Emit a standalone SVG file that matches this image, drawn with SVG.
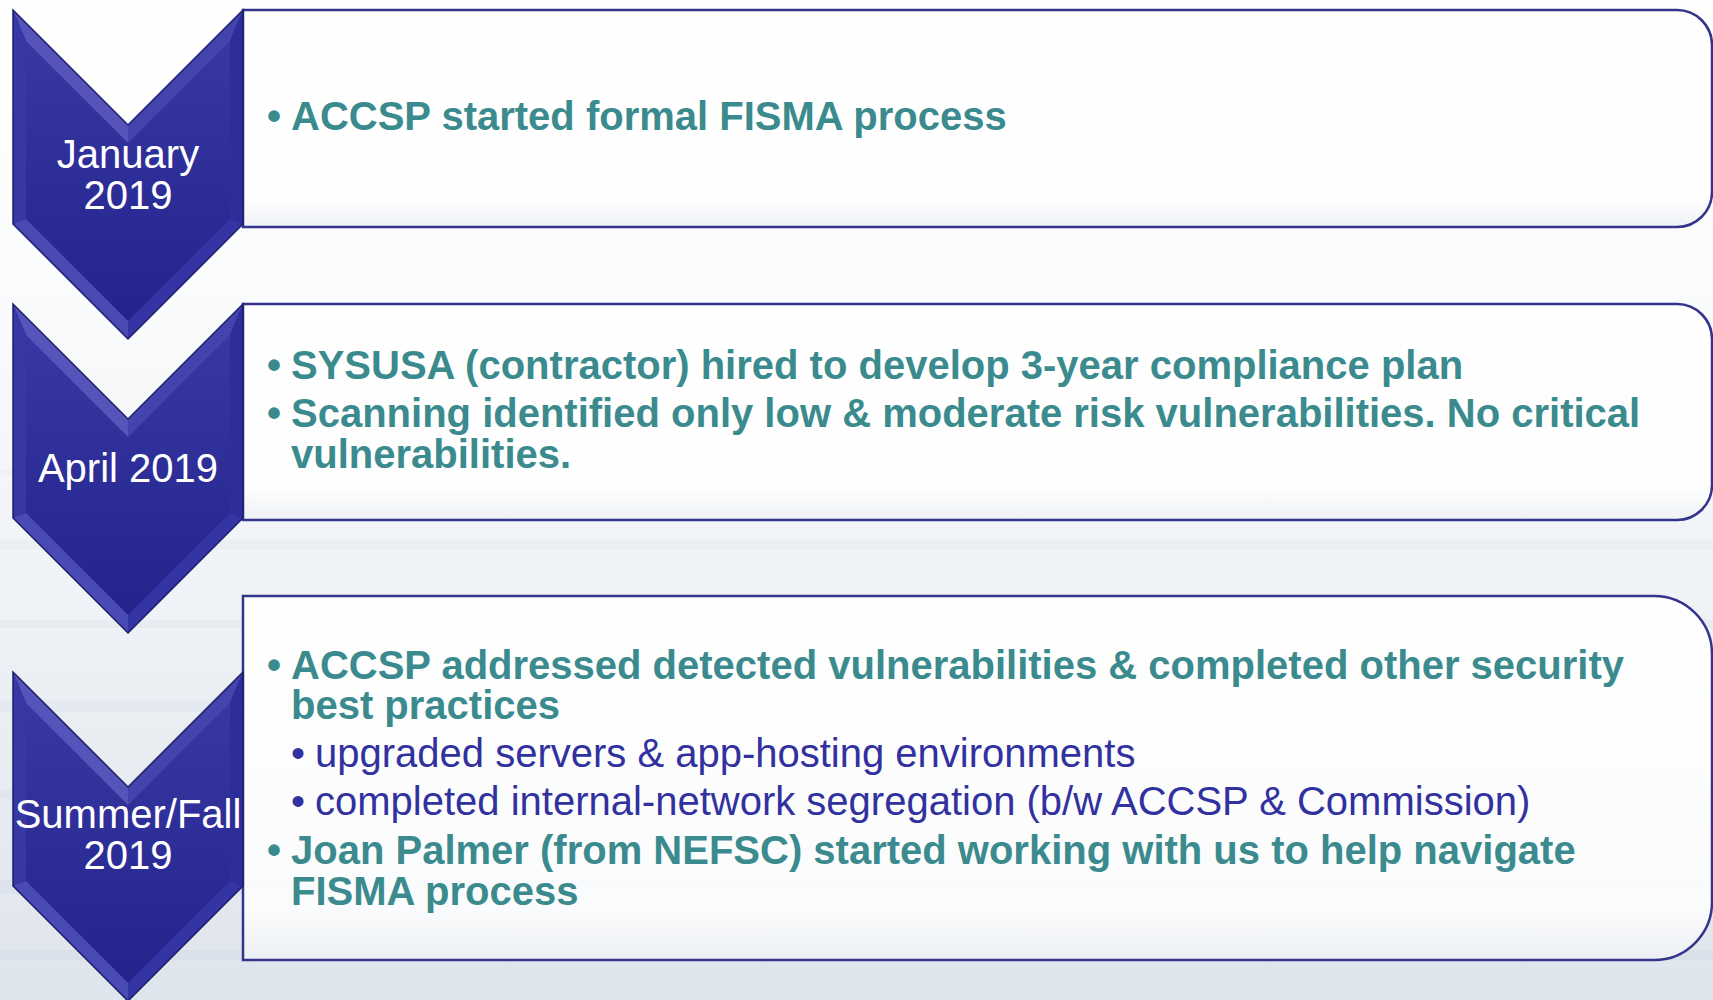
<svg xmlns="http://www.w3.org/2000/svg" width="1713" height="1000" viewBox="0 0 1713 1000">
  <defs>
    <linearGradient id="bg" x1="0" y1="0" x2="0" y2="1">
      <stop offset="0" stop-color="#ffffff"/>
      <stop offset="0.3" stop-color="#fafbfc"/>
      <stop offset="0.6" stop-color="#eff2f6"/>
      <stop offset="1" stop-color="#dfe5ec"/>
    </linearGradient>
    <linearGradient id="chevFill" x1="0" y1="0" x2="0" y2="1">
      <stop offset="0" stop-color="#3838a4"/>
      <stop offset="1" stop-color="#23238c"/>
    </linearGradient>
    <linearGradient id="boxFill" x1="0" y1="0" x2="0" y2="1">
      <stop offset="0" stop-color="#ffffff" stop-opacity="0.95"/>
      <stop offset="0.85" stop-color="#ffffff" stop-opacity="0.85"/>
      <stop offset="1" stop-color="#eef1f5" stop-opacity="0.9"/>
    </linearGradient>
    <g id="chev">
      <polygon points="0,0 115,115 230,0 230,214 115,329 0,214" fill="#2a2a94"/>
      <polygon points="13,31 115,133 217,31 217,209 115,311 13,209" fill="url(#chevFill)"/>
      <polygon points="0,0 115,115 115,133 13,31" fill="#5454ba"/>
      <polygon points="115,115 230,0 217,31 115,133" fill="#4444ae"/>
      <polygon points="0,0 13,31 13,209 0,214" fill="#3838a4"/>
      <polygon points="230,0 230,214 217,209 217,31" fill="#2e2e9a"/>
      <polygon points="0,214 13,209 115,311 115,329" fill="#4a4ab4"/>
      <polygon points="115,329 115,311 217,209 230,214" fill="#3434a4"/>
      <polygon points="0,0 115,115 230,0 230,214 115,329 0,214" fill="none" stroke="#1e1e6e" stroke-width="1.5"/>
    </g>
    <style>
      .box { fill: url(#boxFill); stroke: #34348c; stroke-width: 2.5; }
      .date { font-family: "Liberation Sans", Arial, sans-serif; font-size: 40px; fill: #ffffff; text-anchor: middle; }
      .main { font-family: "Liberation Sans", Arial, sans-serif; font-size: 40px; font-weight: bold; fill: #3b8b8e; }
      .sub { font-family: "Liberation Sans", Arial, sans-serif; font-size: 40px; fill: #3131a0; }
    </style>
  </defs>

  <rect x="0" y="0" width="1713" height="1000" fill="url(#bg)"/>
  <g opacity="0.25">
    <rect x="0" y="470" width="1713" height="6" fill="#dfe5ec"/>
    <rect x="0" y="540" width="1713" height="10" fill="#dce2ea"/>
    <rect x="0" y="620" width="1713" height="8" fill="#d8dfe7"/>
    <rect x="0" y="700" width="1713" height="12" fill="#d5dce5"/>
    <rect x="0" y="790" width="1713" height="9" fill="#d0d8e2"/>
    <rect x="0" y="880" width="1713" height="14" fill="#ccd5e0"/>
    <rect x="0" y="950" width="1713" height="10" fill="#c8d2de"/>
  </g>

  <g id="box1">
    <path class="box" d="M243,10 H1677 A35,35 0 0 1 1712,45 V192 A35,35 0 0 1 1677,227 H243 Z"/>
    <text class="main" x="267" y="130">•</text>
    <text class="main" x="291" y="130">ACCSP started formal FISMA process</text>
  </g>

  <g id="box2">
    <path class="box" d="M243,304 H1677 A35,35 0 0 1 1712,339 V485 A35,35 0 0 1 1677,520 H243 Z"/>
    <text class="main" x="267" y="379">•</text>
    <text class="main" x="291" y="379">SYSUSA (contractor) hired to develop 3-year compliance plan</text>
    <text class="main" x="267" y="427">•</text>
    <text class="main" x="291" y="427">Scanning identified only low &amp; moderate risk vulnerabilities. No critical</text>
    <text class="main" x="291" y="468">vulnerabilities.</text>
  </g>

  <g id="box3">
    <path class="box" d="M243,596 H1654 A58,58 0 0 1 1712,654 V902 A58,58 0 0 1 1654,960 H243 Z"/>
    <text class="main" x="267" y="679">•</text>
    <text class="main" x="291" y="679">ACCSP addressed detected vulnerabilities &amp; completed other security</text>
    <text class="main" x="291" y="719">best practices</text>
    <text class="sub" x="291" y="767">•</text>
    <text class="sub" x="315" y="767">upgraded servers &amp; app-hosting environments</text>
    <text class="sub" x="291" y="815">•</text>
    <text class="sub" x="315" y="815">completed internal-network segregation (b/w ACCSP &amp; Commission)</text>
    <text class="main" x="267" y="864">•</text>
    <text class="main" x="291" y="864">Joan Palmer (from NEFSC) started working with us to help navigate</text>
    <text class="main" x="291" y="905">FISMA process</text>
  </g>

  <g id="chevron1">
    <use href="#chev" transform="translate(13,10)"/>
    <text class="date" x="128" y="168">January</text>
    <text class="date" x="128" y="209">2019</text>
  </g>
  <g id="chevron2">
    <use href="#chev" transform="translate(13,304)"/>
    <text class="date" x="128" y="482">April 2019</text>
  </g>
  <g id="chevron3">
    <use href="#chev" transform="translate(13,672)"/>
    <text class="date" x="128" y="828">Summer/Fall</text>
    <text class="date" x="128" y="869">2019</text>
  </g>

  <g id="connectors"></g>
</svg>
